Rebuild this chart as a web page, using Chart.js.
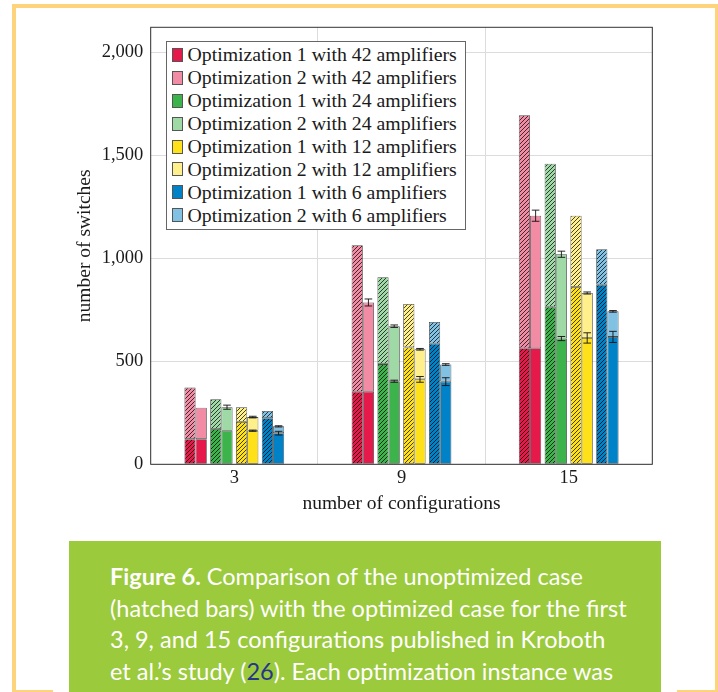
<!DOCTYPE html>
<html>
<head>
<meta charset="utf-8">
<script src="https://cdn.jsdelivr.net/npm/chart.js@4.4.1/dist/chart.umd.min.js"></script>
<style>
  html, body { margin: 0; padding: 0; background: #fff; }
  body { width: 718px; height: 692px; position: relative; overflow: hidden; }
  #chartBox { position: absolute; left: 0; top: 0; width: 718px; height: 530px; }
  .frame { position: absolute; background: #fdd47c; }
  #legend {
    position: absolute; left: 166px; top: 41px; width: 300px; height: 189px;
    box-sizing: border-box; border: 1px solid #666; background: #fff;
    padding-top: 1.5px; font-family: 'Liberation Serif', serif; font-size: 19.8px; color: #1a1a1a;
  }
  .item { height: 22.9px; display: flex; align-items: center; white-space: nowrap; }
  .swatch { width: 11px; height: 14px; box-sizing: border-box; border: 1px solid #555; margin: 0 4.5px 0 5px; flex: none; }
  #caption {
    position: absolute; left: 69px; top: 541px; width: 592px; height: 160px;
    background: #9bca3c; color: #fff; box-sizing: border-box; padding: 20px 0 0 41px;
    font-family: Lato, sans-serif; font-size: 23.5px; line-height: 31.7px; white-space: nowrap;
  }
  #caption b { font-weight: 700; }
  #caption .ref { color: #27348b; }
</style>
</head>
<body>
<div class="frame" style="left:12px; top:4px; width:706px; height:3.5px;"></div>
<div class="frame" style="left:12px; top:4px; width:4px; height:688px;"></div>
<div class="frame" style="left:714.5px; top:4px; width:3.5px; height:688px;"></div>
<div class="frame" style="left:12px; top:689.5px; width:41px; height:2.5px;"></div>
<div class="frame" style="left:677px; top:689.5px; width:41px; height:2.5px;"></div>

<div id="chartBox"><canvas id="chart"></canvas></div>
<div id="legend"></div>

<div id="caption"><b>Figure 6.</b> Comparison of the unoptimized case<br>(hatched bars) with the optimized case for the first<br>3, 9, and 15 configurations published in Kroboth<br>et al.’s study (<span class="ref">26</span>). Each optimization instance was</div>

<script>
// categories and series (rows follow the amplifier counts)
const configurations = ['3', '9', '15'];
const amplifiers = ['42', '24', '12', '6'];

// unoptimized case (hatched bars): top of optimization 1 part and top of whole bar
const unoptimizedOpt1 = [[122, 352, 563], [171, 486, 764], [206, 567, 860], [224, 585, 871]];
const unoptimizedOpt2 = [[372, 1063, 1693], [316, 908, 1458], [277, 778, 1206], [259, 690, 1043]];

// optimized case (solid bars) with error bars
const optimizedOpt1 = [[122, 352, 563], [163, 403, 610], [163, 412, 613], [151, 401, 618]];
const optimizedOpt2 = [[274, 785, 1206], [277, 670, 1019], [229, 558, 831], [184, 484, 742]];
const errorOpt1 = [[0, 0, 0], [0, 5, 10], [3, 14, 25], [9, 19, 27]];
const errorOpt2 = [[0, 17, 27], [10, 6, 15], [4, 4, 5], [3, 4, 4]];

const darkColors = ['#e6194b', '#3cb44b', '#ffe119', '#0082c8'];
const lightColors = ['#f28ca5', '#9fd9a6', '#fff08c', '#80c1e4'];

const yTicks = [0, 500, 1000, 1500, 2000];

const barPct = 0.868;

function hatch(color) {
    const c = document.createElement('canvas');
    c.width = 4; c.height = 4;
    const g = c.getContext('2d');
    g.fillStyle = color;
    g.fillRect(0, 0, 4, 4);
    g.strokeStyle = 'rgba(0,0,0,0.8)';
    g.lineWidth = 0.9;
    g.beginPath();
    g.moveTo(-1, 5); g.lineTo(5, -1);
    g.moveTo(-1, 1); g.lineTo(1, -1);
    g.moveTo(3, 5); g.lineTo(5, 3);
    g.stroke();
    return g.createPattern(c, 'repeat');
}

const datasets = [];
amplifiers.forEach((amp, k) => {
    const label1 = 'Optimization 1 with ' + amp + ' amplifiers';
    const label2 = 'Optimization 2 with ' + amp + ' amplifiers';
    // hatched pair (unoptimized)
    datasets.push({ label: label1, stack: 'u' + amp, hatched: true,
        data: unoptimizedOpt1[k], backgroundColor: hatch(darkColors[k]) });
    datasets.push({ label: label2, stack: 'u' + amp, hatched: true,
        data: unoptimizedOpt2[k].map((v, i) => v - unoptimizedOpt1[k][i]), backgroundColor: hatch(lightColors[k]) });
    // solid pair (optimized)
    datasets.push({ label: label1, stack: 'o' + amp, swatch: darkColors[k],
        data: optimizedOpt1[k], tops: optimizedOpt1[k], errors: errorOpt1[k], backgroundColor: darkColors[k] });
    datasets.push({ label: label2, stack: 'o' + amp, swatch: lightColors[k],
        data: optimizedOpt2[k].map((v, i) => v - optimizedOpt1[k][i]), tops: optimizedOpt2[k], errors: errorOpt2[k], backgroundColor: lightColors[k] });
});

// put the hatched and the solid bar of one amplifier count side by side
const pairBars = {
    id: 'pairBars',
    afterDatasetsUpdate(chart) {
        chart.data.datasets.forEach((ds, i) => {
            const dir = ds.hatched ? 1 : -1;
            chart.getDatasetMeta(i).data.forEach(bar => {
                bar.x += dir * bar.width * (1 / barPct - 1) / 2;
            });
        });
    }
};

const errorBars = {
    id: 'errorBars',
    afterDatasetsDraw(chart) {
        const ctx = chart.ctx;
        const y = chart.scales.y;
        chart.data.datasets.forEach((ds, i) => {
            if (!ds.errors) return;
            chart.getDatasetMeta(i).data.forEach((bar, j) => {
                const e = ds.errors[j];
                if (!e) return;
                const y1 = y.getPixelForValue(ds.tops[j] - e);
                const y2 = y.getPixelForValue(ds.tops[j] + e);
                const half = bar.width * 0.34;
                ctx.save();
                ctx.strokeStyle = '#111';
                ctx.lineWidth = 0.9;
                ctx.beginPath();
                ctx.moveTo(bar.x, y1); ctx.lineTo(bar.x, y2);
                ctx.moveTo(bar.x - half, y1); ctx.lineTo(bar.x + half, y1);
                ctx.moveTo(bar.x - half, y2); ctx.lineTo(bar.x + half, y2);
                ctx.stroke();
                ctx.restore();
            });
        });
    }
};

const plotFrame = {
    id: 'plotFrame',
    afterDatasetsDraw(chart) {
        const a = chart.chartArea;
        const ctx = chart.ctx;
        ctx.save();
        ctx.strokeStyle = '#333';
        ctx.lineWidth = 1;
        ctx.strokeRect(a.left, a.top, a.right - a.left, a.bottom - a.top);
        ctx.restore();
    }
};

Chart.defaults.font.family = "'Liberation Serif', serif";
Chart.defaults.color = '#1a1a1a';

const chart = new Chart(document.getElementById('chart'), {
    type: 'bar',
    data: { labels: configurations, datasets: datasets },
    options: {
        responsive: true,
        maintainAspectRatio: false,
        animation: false,
        layout: { padding: { top: 27.3, right: 65.7, bottom: 0, left: 0 } },
        datasets: {
            bar: {
                barPercentage: barPct,
                categoryPercentage: 0.617,
                borderWidth: 0.8,
                borderColor: '#4a4a4a',
                borderSkipped: false
            }
        },
        plugins: { legend: { display: false }, tooltip: { enabled: false } },
        scales: {
            x: {
                stacked: true,
                grid: { color: '#dcdcdc', drawTicks: false, offset: true },
                border: { display: false },
                ticks: { padding: 3, font: { size: 18.5 } },
                title: { display: true, text: 'number of configurations', font: { size: 19.5 }, padding: { top: 0, bottom: 14 } },
                afterFit: s => { s.height = 65.7; }
            },
            y: {
                stacked: true,
                min: 0,
                max: 2120,
                grid: { color: '#dcdcdc', drawTicks: false },
                border: { display: false },
                afterBuildTicks: s => { s.ticks = yTicks.map(v => ({ value: v })); },
                ticks: { padding: 7.4, font: { size: 18.5 }, callback: v => v.toLocaleString('en-US') },
                title: { display: true, text: 'number of switches', font: { size: 19.5 }, padding: { top: 73.3, bottom: 0 } },
                afterFit: s => { s.width = 150.7; }
            }
        }
    },
    plugins: [pairBars, errorBars, plotFrame]
});

// legend inside the plot, built from the solid datasets
const legend = document.getElementById('legend');
datasets.filter(ds => !ds.hatched).forEach(ds => {
    const item = document.createElement('div');
    item.className = 'item';
    const sw = document.createElement('span');
    sw.className = 'swatch';
    sw.style.background = ds.swatch;
    const txt = document.createElement('span');
    txt.textContent = ds.label;
    item.appendChild(sw);
    item.appendChild(txt);
    legend.appendChild(item);
});
</script>
</body>
</html>
